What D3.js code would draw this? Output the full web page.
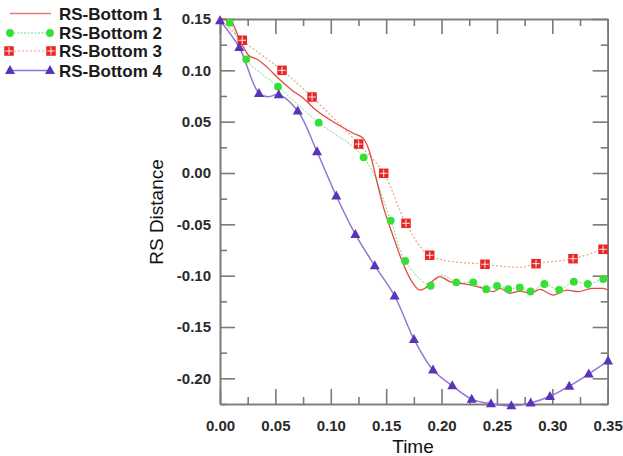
<!DOCTYPE html>
<html><head><meta charset="utf-8">
<script src="https://cdn.jsdelivr.net/npm/d3@7"></script>
<style>body{margin:0;background:#fff;}svg{display:block;font-family:"Liberation Sans",Arial,sans-serif;}</style>
</head><body>
<svg id="c" width="623" height="456"></svg>
<script>
// ---- data ----
const seriesNames = ["RS-Bottom 1","RS-Bottom 2","RS-Bottom 3","RS-Bottom 4"];
const xTicks = [0.00,0.05,0.10,0.15,0.20,0.25,0.30,0.35];
const xMinor = [0.025,0.075,0.125,0.175,0.225,0.275,0.325];
const yTicks = [-0.20,-0.15,-0.10,-0.05,0.00,0.05,0.10,0.15];
const yMinor = [-0.225,-0.175,-0.125,-0.075,-0.025,0.025,0.075,0.125];

// RS-Bottom 1 (solid red line, no markers)
const s1X = [0,0.009,0.018,0.0255,0.0346,0.0436,0.0526,0.0647,0.0752,0.0858,0.1083,0.1203,0.1295,0.1354,0.1399,0.1474,0.1565,0.164,0.1715,0.1806,0.1851,0.1911,0.1986,0.2076,0.2167,0.2257,0.2377,0.2467,0.2528,0.2618,0.2708,0.2799,0.2889,0.3009,0.313,0.3235,0.3356,0.346,0.35];
const s1Y = [0.15,0.149,0.1295,0.115,0.110,0.1019,0.0922,0.0808,0.0728,0.062,0.046,0.0387,0.0335,0.0192,-0.0003,-0.0328,-0.0621,-0.0848,-0.1026,-0.114,-0.1123,-0.1059,-0.101,-0.1059,-0.1075,-0.109,-0.1123,-0.1156,-0.1123,-0.1172,-0.115,-0.1172,-0.1133,-0.1189,-0.114,-0.1156,-0.1123,-0.1123,-0.114];

// RS-Bottom 2 (green circles)
const s2LineX = [0,0.0088,0.0237,0.0524,0.0891,0.1297,0.1541,0.1672,0.1902,0.2,0.2133,0.2286,0.2403,0.2501,0.2602,0.2706,0.2803,0.2928,0.3062,0.3194,0.332,0.346,0.35];
const s2LineY = [0.15,0.1464,0.1107,0.0841,0.049,0.0153,-0.0463,-0.0857,-0.1098,-0.0994,-0.1065,-0.1065,-0.1132,-0.1099,-0.1132,-0.1115,-0.1154,-0.1081,-0.1138,-0.1059,-0.1081,-0.1033,-0.103];
const s2MarkX = [0.0088,0.0237,0.0524,0.0891,0.1297,0.1541,0.1672,0.1902,0.2133,0.2286,0.2403,0.2501,0.2602,0.2706,0.2803,0.2928,0.3062,0.3194,0.332,0.346];
const s2MarkY = [0.1464,0.1107,0.0841,0.049,0.0153,-0.0463,-0.0857,-0.1098,-0.1065,-0.1065,-0.1132,-0.1099,-0.1132,-0.1115,-0.1154,-0.1081,-0.1138,-0.1059,-0.1081,-0.1033];

// RS-Bottom 3 (red squares)
const s3LineX = [0,0.0201,0.056,0.0831,0.1252,0.1478,0.1679,0.1893,0.2392,0.273,0.2853,0.3187,0.3458,0.35];
const s3LineY = [0.15,0.1293,0.1,0.074,0.0282,-0.0003,-0.049,-0.0801,-0.0889,-0.0916,-0.0883,-0.0835,-0.0743,-0.073];
const s3MarkX = [0.0201,0.056,0.0831,0.1252,0.1478,0.1679,0.1893,0.2392,0.2853,0.3187,0.3458];
const s3MarkY = [0.1293,0.1,0.074,0.0282,-0.0003,-0.049,-0.0801,-0.0889,-0.0883,-0.0835,-0.0743];

// RS-Bottom 4 (purple triangles)
const s4LineX = [0,0.0174,0.0352,0.0436,0.053,0.0702,0.0876,0.105,0.1222,0.1397,0.1577,0.1751,0.1923,0.2097,0.2272,0.2446,0.263,0.2805,0.2979,0.3153,0.3329,0.3503];
const s4LineY = [0.1483,0.1224,0.0776,0.0743,0.0763,0.0604,0.0207,-0.0224,-0.0598,-0.0903,-0.1198,-0.162,-0.1919,-0.2072,-0.2202,-0.2247,-0.2267,-0.224,-0.2175,-0.2075,-0.1958,-0.1831];
const s4MarkX = [0,0.0174,0.0352,0.053,0.0702,0.0876,0.105,0.1222,0.1397,0.1577,0.1751,0.1923,0.2097,0.2272,0.2446,0.263,0.2805,0.2979,0.3153,0.3329,0.3503];
const s4MarkY = [0.1483,0.1224,0.0776,0.0763,0.0604,0.0207,-0.0224,-0.0598,-0.0903,-0.1198,-0.162,-0.1919,-0.2072,-0.2202,-0.2247,-0.2267,-0.224,-0.2175,-0.2075,-0.1958,-0.1831];

// ---- styles ----
const c1 = "#e24a44", c2 = "#33e033", c2l = "#7fd67f", c3 = "#e82424", c3l = "#f2a888", c4 = "#5a34b8", c4l = "#9078d4";
const axisColor = "#7a7a7a";

const svg = d3.select("#c");
const L = 220, R = 607.7, T = 19, B = 404;
const x = d3.scaleLinear().domain([0,0.35]).range([L,R]);
const y = d3.scaleLinear().domain([-0.225,0.15]).range([B,T]);
const fmt = d => d.toFixed(2).replace("-0.00","0.00");

function styleAxis(g){
  g.select(".domain").attr("stroke", axisColor).attr("stroke-width",1.6);
  g.selectAll(".tick line").attr("stroke", axisColor).attr("stroke-width",1.6);
  g.selectAll(".tick text").attr("fill","#2a2a2a").attr("font-size","15px").attr("font-weight","bold");
}
// bottom
svg.append("g").attr("transform",`translate(0,${B})`).call(d3.axisBottom(x).tickValues(xTicks).tickFormat(fmt).tickSizeInner(-15).tickSizeOuter(0).tickPadding(16)).call(styleAxis);
svg.append("g").attr("transform",`translate(0,${B})`).call(d3.axisBottom(x).tickValues(xMinor).tickFormat("").tickSizeInner(-7).tickSizeOuter(0)).call(styleAxis);
// top
svg.append("g").attr("transform",`translate(0,${T})`).call(d3.axisTop(x).tickValues(xTicks).tickFormat("").tickSizeInner(-15).tickSizeOuter(0)).call(styleAxis);
svg.append("g").attr("transform",`translate(0,${T})`).call(d3.axisTop(x).tickValues(xMinor).tickFormat("").tickSizeInner(-7).tickSizeOuter(0)).call(styleAxis);
// left
svg.append("g").attr("transform",`translate(${L},0)`).call(d3.axisLeft(y).tickValues(yTicks).tickFormat(fmt).tickSizeInner(-15).tickSizeOuter(0).tickPadding(9)).call(styleAxis);
svg.append("g").attr("transform",`translate(${L},0)`).call(d3.axisLeft(y).tickValues(yMinor).tickFormat("").tickSizeInner(-7).tickSizeOuter(0)).call(styleAxis);
// right
svg.append("g").attr("transform",`translate(${R},0)`).call(d3.axisRight(y).tickValues(yTicks).tickFormat("").tickSizeInner(-15).tickSizeOuter(0)).call(styleAxis);
svg.append("g").attr("transform",`translate(${R},0)`).call(d3.axisRight(y).tickValues(yMinor).tickFormat("").tickSizeInner(-7).tickSizeOuter(0)).call(styleAxis);

// axis titles
svg.append("text").attr("x",413).attr("y",453).attr("text-anchor","middle").attr("font-size","19px").attr("fill","#111").text("Time");
svg.append("text").attr("transform","translate(163,212) rotate(-90)").attr("text-anchor","middle").attr("font-size","19px").attr("fill","#111").text("RS Distance");

const zip = (xs,ys) => xs.map((v,i)=>[v,ys[i]]);
const line = d3.line().x(d=>x(d[0])).y(d=>y(d[1])).curve(d3.curveCatmullRom.alpha(0.5));
const lineM = d3.line().x(d=>x(d[0])).y(d=>y(d[1])).curve(d3.curveMonotoneX);

// lines
svg.append("path").datum(zip(s3LineX,s3LineY)).attr("d",line).attr("fill","none").attr("stroke",c3l).attr("stroke-width",1.3).attr("stroke-dasharray","2,2");
svg.append("path").datum(zip(s2LineX,s2LineY)).attr("d",line).attr("fill","none").attr("stroke",c2l).attr("stroke-width",1).attr("stroke-dasharray","2,1.5");
svg.append("path").datum(zip(s1X,s1Y)).attr("d",lineM).attr("fill","none").attr("stroke",c1).attr("stroke-width",1.3);
svg.append("path").datum(zip(s4LineX,s4LineY)).attr("d",line).attr("fill","none").attr("stroke",c4l).attr("stroke-width",1.5);

// marker helpers
function circle(g,cx,cy){ g.append("circle").attr("cx",cx).attr("cy",cy).attr("r",3.9).attr("fill",c2); }
function square(g,cx,cy){
  const s=9.5;
  g.append("rect").attr("x",cx-s/2).attr("y",cy-s/2).attr("width",s).attr("height",s).attr("fill",c3);
  g.append("line").attr("x1",cx).attr("x2",cx).attr("y1",cy-s/2+1).attr("y2",cy+s/2-1).attr("stroke","#fff").attr("stroke-width",0.9);
  g.append("line").attr("y1",cy).attr("y2",cy).attr("x1",cx-s/2+1).attr("x2",cx+s/2-1).attr("stroke","#fff").attr("stroke-width",0.9);
}
function tri(g,cx,cy){
  const h=9, w=10;
  g.append("path").attr("d",`M${cx},${cy-h*0.6}L${cx+w/2},${cy+h*0.4}L${cx-w/2},${cy+h*0.4}Z`).attr("fill",c4);
}
const mg = svg.append("g");
zip(s3MarkX,s3MarkY).forEach(d=>square(mg,x(d[0]),y(d[1])));
zip(s2MarkX,s2MarkY).forEach(d=>circle(mg,x(d[0]),y(d[1])));
zip(s4MarkX,s4MarkY).forEach(d=>tri(mg,x(d[0]),y(d[1])));

// legend
const lg = svg.append("g");
const rows = [13.5,33,51,70.5];
const lx0 = 10, lx1 = 51;
lg.append("line").attr("x1",lx0).attr("x2",lx1).attr("y1",rows[0]).attr("y2",rows[0]).attr("stroke","#e87a7a").attr("stroke-width",1.6);
lg.append("line").attr("x1",lx0).attr("x2",lx1).attr("y1",rows[1]).attr("y2",rows[1]).attr("stroke",c2l).attr("stroke-width",1.1).attr("stroke-dasharray","2,1.5");
circle(lg,lx0,rows[1]); circle(lg,lx1-1,rows[1]);
lg.append("line").attr("x1",lx0).attr("x2",lx1).attr("y1",rows[2]).attr("y2",rows[2]).attr("stroke",c3l).attr("stroke-width",1.2).attr("stroke-dasharray","2,2");
square(lg,lx0-1,rows[2]); square(lg,lx1,rows[2]);
lg.append("line").attr("x1",lx0).attr("x2",lx1).attr("y1",rows[3]).attr("y2",rows[3]).attr("stroke",c4l).attr("stroke-width",1.5);
tri(lg,lx0,rows[3]); tri(lg,lx1-1,rows[3]);
seriesNames.forEach((n,i)=>{
  lg.append("text").attr("x",59).attr("y",rows[i]+6).attr("font-size","17px").attr("font-weight","bold").attr("fill","#1a1a1a").text(n);
});
</script>
</body></html>
